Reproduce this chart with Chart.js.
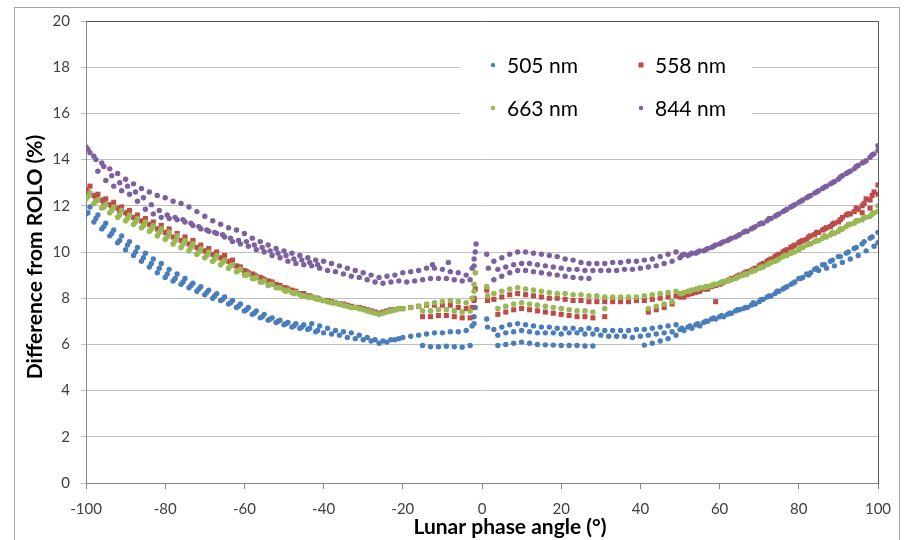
<!DOCTYPE html>
<html><head><meta charset="utf-8">
<script src="https://cdn.jsdelivr.net/npm/chart.js@4.4.0/dist/chart.umd.min.js"></script>
<style>html,body{margin:0;padding:0;background:#fff;}</style>
</head><body>
<canvas id="c" width="905" height="540"></canvas>
<script>
const seriesNames = ['505 nm', '558 nm', '663 nm', '844 nm'];
const xAxisTitle = 'Lunar phase angle (°)';
const yAxisTitle = 'Difference from ROLO (%)';

// 505 nm
const s505Left = [
[-100,11.65],[-98,11.3],[-96,11.0],[-94,10.7],[-92,10.4],[-90,10.1],[-88,9.85],[-86,9.6],[-84,9.35],[-82,9.1],[-80,8.9],[-78,8.75],[-76,8.6],[-74,8.45],[-72,8.3],[-70,8.15],[-68,8.0],[-66,7.9],[-64,7.75],[-62,7.6],[-60,7.45],[-58,7.3],[-56,7.15],[-54,7.05],[-52,6.95],[-50,6.85],[-48,6.75],[-46,6.7],[-44,6.65],[-42,6.55],[-40,6.5],[-38,6.45],[-36,6.4],[-34,6.3],[-32,6.25],[-30,6.2],[-28,6.15],[-26,6.05],[-24,6.1],[-22,6.2],[-20,6.3],[-18,6.35],[-16,6.4],[-14,6.45],[-12,6.5],[-10,6.5],[-8,6.55],[-6,6.55],[-4,6.6],[-2,6.9],
[-99,11.95],[-97,11.6],[-95,11.25],[-93,10.95],[-91,10.7],[-89,10.45],[-87,10.2],[-85,9.95],[-83,9.7],[-81,9.5],[-79,9.25],[-77,9.05],[-75,8.85],[-73,8.65],[-71,8.5],[-69,8.35],[-67,8.2],[-65,8.05],[-63,7.9],[-61,7.75],[-59,7.6],[-57,7.45],[-55,7.3],[-53,7.15],[-51,7.05],[-49,6.95],[-47,6.9],[-45,6.85],[-43,6.9],[-41,6.8],[-39,6.7],[-37,6.6],[-35,6.55],[-33,6.5],[-31,6.4],[-29,6.3],[-27,6.2],[-25,6.15],[-23,6.2],[-21,6.25],
[-15,5.95],[-13,5.9],[-11,5.9],[-9,5.92],[-7,5.9],[-5,5.88],[-3,5.95],
[-2.5,6.8],[-2,7.2],[-1.7,7.6]
];
const s505Right = [
[1.2,7.1],[1.4,6.75],
[3,6.65],[5,6.75],[7,6.85],[9,6.9],[11,6.85],[13,6.8],[15,6.75],[17,6.75],[19,6.7],[21,6.7],[23,6.7],[25,6.65],[27,6.7],[29,6.65],[31,6.6],[33,6.6],[35,6.6],[37,6.6],[39,6.65],[41,6.65],[43,6.7],[45,6.75],[47,6.8],[49,6.85],
[4,6.4],[6,6.5],[8,6.55],[10,6.6],[12,6.55],[14,6.5],[16,6.5],[18,6.5],[20,6.45],[22,6.5],[24,6.5],[26,6.45],[28,6.45],[30,6.4],[32,6.35],[34,6.35],[36,6.35],[38,6.3],[40,6.35],[42,6.4],[44,6.45],[46,6.5],[48,6.55],
[4,5.95],[6,6.0],[8,6.05],[10,6.1],[12,6.05],[14,6.0],[16,5.98],[18,5.97],[20,5.95],[22,5.95],[24,5.95],[26,5.93],[28,5.93],[41,5.97],[43,6.05],[45,6.15],[47,6.25],[49,6.4],
[50,6.65],[52,6.75],[54,6.85],[56,6.95],[58,7.1],[60,7.2],[62,7.3],[64,7.45],[66,7.55],[68,7.7],[70,7.85],[72,8.05],[74,8.2],[76,8.4],[78,8.6],[80,8.85],[82,9.05],[84,9.25],[86,9.45],[88,9.6],[90,9.8],[92,9.95],[94,10.15],[96,10.35],[98,10.6],[100,10.85],
[51,6.6],[53,6.7],[55,6.8],[57,7.0],[59,7.1],[61,7.2],[63,7.35],[65,7.5],[67,7.6],[69,7.75],[71,7.95],[73,8.1],[75,8.3],[77,8.5],[79,8.7],[81,8.9],[83,9.1],[85,9.2],[87,9.3],[89,9.4],[91,9.55],[93,9.7],[95,9.85],[97,10.05],[99,10.25],[100,10.4]
];
const s505Extra = [
[-99.5,11.7],[-97.5,11.45],[-95.5,11.1],[-93.5,10.8],[-91.5,10.5],[-89.5,10.3],[-87.5,10.0],[-85.5,9.75],[-83.5,9.5],[-81.5,9.3],[-79.5,9.05],[-77.5,8.85],[-75.5,8.7],[-73.5,8.55],[-71.5,8.4],[-69.5,8.25],[-67.5,8.1],[-65.5,7.95],[-63.5,7.8],[-61.5,7.65],[-59.5,7.5],[-57.5,7.35],[-55.5,7.2],[-53.5,7.1],[-51.5,7.0],[-49.5,6.9],[-47.5,6.8],[-45.5,6.75],[-43.5,6.7],[-41.5,6.6],
[50.5,6.7],[52.5,6.8],[54.5,6.9],[56.5,7.0],[58.5,7.15],[60.5,7.25],[62.5,7.35],[64.5,7.5],[66.5,7.6],[68.5,7.8],[70.5,7.95],[72.5,8.1],[74.5,8.3],[76.5,8.45],[78.5,8.65],[80.5,8.85],[82.5,9.0],[84.5,9.3],[86.5,9.45],[88.5,9.65],[90.5,9.8],[92.5,10.0],[94.5,10.2],[96.5,10.45],[98.5,10.65]
];

// 558 nm
const s558Left = [
[-100,12.7],[-98,12.45],[-96,12.25],[-94,12.05],[-92,11.9],[-90,11.7],[-88,11.5],[-86,11.35],[-84,11.2],[-82,11.0],[-80,10.85],[-78,10.65],[-76,10.5],[-74,10.35],[-72,10.2],[-70,10.05],[-68,9.9],[-66,9.75],[-64,9.6],[-62,9.4],[-60,9.2],[-58,9.05],[-56,8.9],[-54,8.75],[-52,8.6],[-50,8.45],[-48,8.35],[-46,8.2],[-44,8.1],[-42,8.0],[-40,7.9],[-38,7.85],[-36,7.75],[-34,7.7],[-32,7.6],[-30,7.55],[-28,7.45],[-26,7.35],[-24,7.45],[-22,7.5],[-20,7.55],[-18,7.6],[-16,7.65],[-14,7.7],[-12,7.7],[-10,7.7],[-8,7.7],[-6,7.6],[-4,7.55],[-2,7.9],
[-99,12.85],[-97,12.5],[-95,12.3],[-93,12.15],[-91,11.95],[-89,11.8],[-87,11.6],[-85,11.45],[-83,11.3],[-81,11.15],[-79,11.0],[-77,10.8],[-75,10.65],[-73,10.5],[-71,10.3],[-69,10.15],[-67,10.0],[-65,9.85],[-63,9.65],[-61,9.35],[-59,9.1],[-57,8.95],[-55,8.8],[-53,8.7],[-51,8.55],[-49,8.4],[-47,8.3],[-45,8.2],[-43,8.05],[-41,7.95],[-39,7.9],[-37,7.8],[-35,7.75],[-33,7.65],[-31,7.6],[-29,7.5],[-27,7.4],[-25,7.4],[-23,7.5],[-21,7.55],
[-15,7.2],[-13,7.2],[-11,7.25],[-9,7.25],[-7,7.2],[-5,7.15],[-3,7.15],
[-2.5,7.6],[-2,8.0],[-1.7,8.4]
];
const s558Right = [
[1.2,8.35],[1.4,7.9],
[3,7.95],[5,8.05],[7,8.15],[9,8.2],[11,8.15],[13,8.1],[15,8.05],[17,8.0],[19,8.0],[21,7.95],[23,7.9],[25,7.9],[27,7.85],[29,7.85],[31,7.85],[33,7.85],[35,7.85],[37,7.85],[39,7.9],[41,7.9],[43,7.95],[45,8.0],[47,8.05],[49,8.1],
[4,7.3],[6,7.4],[8,7.5],[10,7.55],[12,7.5],[14,7.45],[16,7.4],[18,7.35],[20,7.3],[22,7.25],[24,7.2],[26,7.2],[28,7.15],[31,7.2],[42,7.4],[44,7.5],[46,7.6],[48,7.75],[59,7.85],
[50,8.05],[52,8.15],[54,8.25],[56,8.4],[58,8.5],[60,8.6],[62,8.75],[64,8.9],[66,9.05],[68,9.2],[70,9.4],[72,9.6],[74,9.8],[76,10.0],[78,10.2],[80,10.4],[82,10.55],[84,10.75],[86,10.95],[88,11.1],[90,11.3],[92,11.6],[94,11.75],[96,12.0],[98,12.25],[100,12.5],
[51,8.05],[53,8.2],[55,8.3],[57,8.4],[59,8.55],[61,8.7],[63,8.85],[65,9.0],[67,9.15],[69,9.3],[71,9.5],[73,9.7],[75,9.9],[77,10.1],[79,10.3],[81,10.5],[83,10.7],[85,10.85],[87,11.05],[89,11.25],[91,11.5],[93,11.65],[95,11.85],[97,12.3],[99,12.6],[100,12.9],[98,11.9],[96,11.7]
];
const s558Extra = [
[-99.5,12.6],[-97.5,12.35],[-95.5,12.15],[-93.5,12.0],[-91.5,11.8],[-89.5,11.65],[-87.5,11.45],[-85.5,11.3],[-83.5,11.1],[-81.5,10.95],[-79.5,10.8],[-77.5,10.6],[-75.5,10.45],[-73.5,10.3],[-71.5,10.15],[-69.5,10.0],[-67.5,9.85],[-65.5,9.7],[-63.5,9.55],[-61.5,9.35],[-59.5,9.15],[-57.5,9.0],[-55.5,8.85],[-53.5,8.7],[-51.5,8.55],[-49.5,8.45],[-47.5,8.3],[-45.5,8.2],[-43.5,8.1],[-41.5,8.0],
[50.5,8.1],[52.5,8.2],[54.5,8.3],[56.5,8.4],[58.5,8.55],[60.5,8.65],[62.5,8.8],[64.5,8.95],[66.5,9.1],[68.5,9.25],[70.5,9.45],[72.5,9.65],[74.5,9.85],[76.5,10.05],[78.5,10.25],[80.5,10.45],[82.5,10.65],[84.5,10.85],[86.5,11.0],[88.5,11.2],[90.5,11.4],[92.5,11.65],[94.5,11.9],[96.5,12.1],[98.5,12.45]
];

// 663 nm
const s663Left = [
[-100,12.3],[-98,12.1],[-96,11.9],[-94,11.7],[-92,11.5],[-90,11.35],[-88,11.2],[-86,11.05],[-84,10.9],[-82,10.7],[-80,10.55],[-78,10.35],[-76,10.2],[-74,10.05],[-72,9.9],[-70,9.75],[-68,9.6],[-66,9.45],[-64,9.3],[-62,9.15],[-60,9.0],[-58,8.85],[-56,8.7],[-54,8.55],[-52,8.45],[-50,8.35],[-48,8.25],[-46,8.15],[-44,8.05],[-42,8.0],[-40,7.9],[-38,7.8],[-36,7.75],[-34,7.65],[-32,7.6],[-30,7.5],[-28,7.4],[-26,7.3],[-24,7.4],[-22,7.5],[-20,7.55],[-18,7.6],[-16,7.65],[-14,7.75],[-12,7.8],[-10,7.85],[-8,7.9],[-6,7.85],[-4,7.8],[-2,8.3],
[-99,12.55],[-97,12.25],[-95,12.05],[-93,11.95],[-91,11.8],[-89,11.6],[-87,11.45],[-85,11.3],[-83,11.15],[-81,11.0],[-79,10.85],[-77,10.7],[-75,10.5],[-73,10.35],[-71,10.15],[-69,10.0],[-67,9.85],[-65,9.65],[-63,9.45],[-61,9.25],[-59,9.05],[-57,8.9],[-55,8.75],[-53,8.6],[-51,8.45],[-49,8.35],[-47,8.25],[-45,8.1],[-43,8.05],[-41,7.95],[-39,7.85],[-37,7.8],[-35,7.7],[-33,7.6],[-31,7.55],[-29,7.45],[-27,7.35],[-25,7.35],[-23,7.45],[-21,7.55],
[-15,7.45],[-13,7.45],[-11,7.5],[-9,7.5],[-7,7.45],[-5,7.4],[-3,7.45],
[-2.5,8.0],[-2,8.6],[-1.7,9.1]
];
const s663Right = [
[1.2,8.5],[1.4,8.1],
[3,8.2],[5,8.3],[7,8.4],[9,8.45],[11,8.4],[13,8.35],[15,8.3],[17,8.25],[19,8.2],[21,8.2],[23,8.15],[25,8.15],[27,8.1],[29,8.1],[31,8.05],[33,8.05],[35,8.05],[37,8.05],[39,8.05],[41,8.1],[43,8.15],[45,8.2],[47,8.25],[49,8.3],
[4,7.55],[6,7.65],[8,7.75],[10,7.8],[12,7.75],[14,7.7],[16,7.65],[18,7.6],[20,7.55],[22,7.5],[24,7.45],[26,7.45],[28,7.4],[31,7.55],[42,7.55],[44,7.65],[46,7.75],[48,7.85],
[50,8.2],[52,8.3],[54,8.4],[56,8.45],[58,8.55],[60,8.65],[62,8.75],[64,8.85],[66,9.0],[68,9.15],[70,9.3],[72,9.45],[74,9.6],[76,9.8],[78,9.95],[80,10.1],[82,10.3],[84,10.45],[86,10.6],[88,10.75],[90,10.9],[92,11.1],[94,11.25],[96,11.4],[98,11.55],[100,11.75],
[51,8.25],[53,8.35],[55,8.45],[57,8.5],[59,8.6],[61,8.7],[63,8.8],[65,8.95],[67,9.05],[69,9.2],[71,9.35],[73,9.55],[75,9.7],[77,9.85],[79,10.0],[81,10.2],[83,10.35],[85,10.5],[87,10.65],[89,10.8],[91,11.0],[93,11.2],[95,11.35],[97,11.5],[99,11.7],[100,12.0]
];
const s663Extra = [
[-99.5,12.4],[-97.5,12.2],[-95.5,11.95],[-93.5,11.8],[-91.5,11.6],[-89.5,11.45],[-87.5,11.3],[-85.5,11.15],[-83.5,11.0],[-81.5,10.85],[-79.5,10.65],[-77.5,10.5],[-75.5,10.35],[-73.5,10.2],[-71.5,10.0],[-69.5,9.85],[-67.5,9.7],[-65.5,9.55],[-63.5,9.4],[-61.5,9.2],[-59.5,9.0],[-57.5,8.85],[-55.5,8.7],[-53.5,8.6],[-51.5,8.45],[-49.5,8.3],[-47.5,8.2],[-45.5,8.1],[-43.5,8.05],[-41.5,7.95],
[50.5,8.2],[52.5,8.3],[54.5,8.4],[56.5,8.5],[58.5,8.6],[60.5,8.7],[62.5,8.8],[64.5,8.9],[66.5,9.05],[68.5,9.2],[70.5,9.35],[72.5,9.5],[74.5,9.65],[76.5,9.85],[78.5,10.0],[80.5,10.2],[82.5,10.35],[84.5,10.5],[86.5,10.7],[88.5,10.85],[90.5,11.0],[92.5,11.2],[94.5,11.35],[96.5,11.5],[98.5,11.65]
];

// 844 nm
const s844Left = [
[-100,14.55],[-98,14.15],[-96,13.85],[-94,13.6],[-92,13.4],[-90,13.15],[-88,12.95],[-86,12.75],[-84,12.6],[-82,12.45],[-80,12.35],[-78,12.2],[-76,12.1],[-74,11.95],[-72,11.75],[-70,11.55],[-68,11.35],[-66,11.2],[-64,11.05],[-62,10.95],[-60,10.8],[-58,10.6],[-56,10.45],[-54,10.3],[-52,10.15],[-50,10.05],[-48,9.95],[-46,9.85],[-44,9.75],[-42,9.65],[-40,9.6],[-38,9.5],[-36,9.4],[-34,9.3],[-32,9.2],[-30,9.1],[-28,9.0],[-26,8.9],[-24,8.95],[-22,9.0],[-20,9.1],[-18,9.15],[-16,9.2],[-14,9.3],[-12,9.3],[-10,9.25],[-8,9.15],[-6,9.1],[-4,9.0],[-2,9.4],
[-99,14.3],[-97,13.5],[-95,13.1],[-93,12.85],[-91,12.65],[-89,12.5],[-87,12.2],[-85,11.85],[-83,11.65],[-81,11.5],[-79,11.45],[-77,11.4],[-75,11.3],[-73,11.15],[-71,11.0],[-69,10.9],[-67,10.8],[-65,10.65],[-63,10.45],[-61,10.35],[-59,10.25],[-57,10.1],[-55,10.0],[-53,9.85],[-51,9.75],[-49,9.6],[-47,9.5],[-45,9.45],[-43,9.4],[-41,9.3],[-39,9.2],[-37,9.15],[-35,9.05],[-33,8.95],[-31,8.9],[-29,8.8],[-27,8.7],[-25,8.65],[-23,8.7],[-21,8.75],[-19,8.7],[-17,8.75],[-15,8.8],[-13,8.85],[-11,8.85],[-9,8.85],[-7,8.8],[-5,8.75],[-3,8.8],
[-12.5,9.45],[-8.5,9.55],
[-2.5,9.3],[-2,9.7],[-1.7,10.0],[-1.5,10.35]
];
const s844Right = [
[1.2,9.9],[1.6,9.3],
[3,9.6],[5,9.75],[7,9.9],[9,10.0],[11,10.0],[13,9.95],[15,9.9],[17,9.85],[19,9.8],[21,9.7],[23,9.65],[25,9.55],[27,9.5],[29,9.5],[31,9.5],[33,9.55],[35,9.55],[37,9.6],[39,9.6],[41,9.65],[43,9.7],[45,9.8],[47,9.9],[49,10.0],
[4,9.25],[6,9.35],[8,9.45],[10,9.5],[12,9.5],[14,9.45],[16,9.4],[18,9.35],[20,9.3],[22,9.25],[24,9.25],[26,9.2],[28,9.2],[30,9.2],[32,9.2],[34,9.2],[36,9.25],[38,9.25],[40,9.3],[42,9.35],[44,9.4],[46,9.5],[48,9.6],
[3,8.8],[5,8.95],[7,9.1],[9,9.2],[11,9.2],[13,9.15],[15,9.1],[17,9.05],[19,9.0],[21,8.95],[23,8.9],[25,8.87],[27,8.85],
[50,9.75],[52,9.85],[54,9.95],[56,10.05],[58,10.2],[60,10.35],[62,10.5],[64,10.65],[66,10.85],[68,11.0],[70,11.2],[72,11.35],[74,11.55],[76,11.75],[78,11.95],[80,12.15],[82,12.35],[84,12.55],[86,12.75],[88,12.95],[90,13.15],[92,13.4],[94,13.6],[96,13.85],[98,14.1],[100,14.4],
[51,9.9],[53,9.95],[55,10.05],[57,10.15],[59,10.3],[61,10.45],[63,10.6],[65,10.75],[67,10.9],[69,11.1],[71,11.25],[73,11.45],[75,11.65],[77,11.85],[79,12.05],[81,12.25],[83,12.45],[85,12.65],[87,12.85],[89,13.05],[91,13.3],[93,13.5],[95,13.75],[97,13.95],[99,14.25],[100,14.6]
];
const s844Extra = [
[-99.5,14.45],[-97.5,14.0],[-95.5,13.7],[-93.5,13.3],[-91.5,13.0],[-89.5,12.85],[-87.5,12.6],[-85.5,12.35],[-83.5,12.05],[-81.5,11.8],[-79.5,11.6],[-77.5,11.5],[-75.5,11.4],[-73.5,11.25],[-71.5,11.1],[-69.5,10.95],[-67.5,10.85],[-65.5,10.75],[-63.5,10.6],[-61.5,10.5],[-59.5,10.45],[-57.5,10.3],[-55.5,10.2],[-53.5,10.05],[-51.5,9.95],[-49.5,9.85],[-47.5,9.7],[-45.5,9.65],[-43.5,9.55],[-41.5,9.45],
[50.5,9.85],[52.5,9.9],[54.5,10.0],[56.5,10.1],[58.5,10.25],[60.5,10.4],[62.5,10.55],[64.5,10.7],[66.5,10.9],[68.5,11.05],[70.5,11.25],[72.5,11.45],[74.5,11.6],[76.5,11.8],[78.5,12.0],[80.5,12.2],[82.5,12.4],[84.5,12.6],[86.5,12.8],[88.5,13.0],[90.5,13.25],[92.5,13.45],[94.5,13.7],[96.5,13.9],[98.5,14.2]
];

const seriesColors = ['#4A7EBB', '#BE4B48', '#98B954', '#7D60A0'];
const seriesShapes = ['circle', 'rect', 'circle', 'circle'];
const seriesRadius = [2.7, 3.6, 2.8, 2.7];

const toPts = arr => arr.map(p => ({x: p[0], y: p[1]}));
const seriesData = [
  s505Left.concat(s505Right, s505Extra),
  s558Left.concat(s558Right, s558Extra),
  s663Left.concat(s663Right, s663Extra),
  s844Left.concat(s844Right, s844Extra)
];

const datasets = seriesNames.map((name, i) => ({
  label: name,
  data: toPts(seriesData[i]),
  backgroundColor: seriesColors[i],
  borderColor: seriesColors[i],
  borderWidth: 0,
  pointStyle: seriesShapes[i],
  pointRadius: seriesRadius[i],
  pointHoverRadius: seriesRadius[i],
  showLine: false,
  order: 4 - i
}));

const FONT = 'Lato, "Open Sans", "DejaVu Sans", sans-serif';

const decor = {
  id: 'decor',
  beforeDraw(chart) {
    const ctx = chart.ctx;
    ctx.save();
    ctx.fillStyle = '#ffffff';
    ctx.fillRect(0, 0, chart.width, chart.height);
    ctx.strokeStyle = '#a6a6a6';
    ctx.lineWidth = 1;
    ctx.strokeRect(14.5, 7.5, 885, 545);
    ctx.restore();
  },
  beforeDatasetsDraw(chart) {
    const ctx = chart.ctx;
    const a = chart.chartArea;
    ctx.save();
    ctx.fillStyle = '#ffffff';
    ctx.fillRect(460, 44, 292, 84);
    ctx.strokeStyle = '#595959';
    ctx.lineWidth = 1;
    ctx.beginPath();
    ctx.moveTo(Math.round(a.left) + 0.5, Math.round(a.top) + 0.5);
    ctx.lineTo(Math.round(a.right) + 0.5, Math.round(a.top) + 0.5);
    ctx.lineTo(Math.round(a.right) + 0.5, Math.round(a.bottom) + 0.5);
    ctx.stroke();
    ctx.restore();
  },
  afterDraw(chart) {
    const ctx = chart.ctx;
    ctx.save();
    const pos = [[493, 65], [641, 65], [493, 108], [641, 108]];
    ctx.font = '21px ' + FONT;
    ctx.textBaseline = 'middle';
    ctx.textAlign = 'left';
    chart.data.datasets.forEach((ds, i) => {
      const [mx, my] = pos[i];
      ctx.fillStyle = ds.backgroundColor;
      if (ds.pointStyle === 'rect') {
        ctx.fillRect(mx - 2.5, my - 2.5, 5, 5);
      } else {
        ctx.beginPath();
        ctx.arc(mx, my, 2.2, 0, Math.PI * 2);
        ctx.fill();
      }
      ctx.fillStyle = '#000000';
      ctx.fillText(ds.label, mx + 14, my + 1);
    });
    ctx.font = 'bold 21px ' + FONT;
    ctx.fillStyle = '#000000';
    ctx.textAlign = 'center';
    ctx.textBaseline = 'middle';
    ctx.fillText(xAxisTitle, 510, 527);
    ctx.translate(35, 257);
    ctx.rotate(-Math.PI / 2);
    ctx.fillText(yAxisTitle, 0, 0);
    ctx.restore();
  }
};

new Chart(document.getElementById('c'), {
  type: 'scatter',
  data: { datasets },
  options: {
    responsive: false,
    animation: false,
    devicePixelRatio: 1,
    layout: { padding: { left: 0, right: 27, top: 21, bottom: 0 } },
    plugins: { legend: { display: false }, tooltip: { enabled: false } },
    scales: {
      x: {
        type: 'linear',
        min: -100, max: 100,
        afterFit(scale) { scale.height = 57; },
        ticks: { stepSize: 20, color: '#404040', font: { family: FONT, size: 15 }, padding: 11, maxRotation: 0 },
        grid: { drawOnChartArea: false, drawTicks: true, tickLength: 6, color: '#868686' },
        border: { color: '#868686' },
        title: { display: false }
      },
      y: {
        min: 0, max: 20,
        afterFit(scale) { scale.width = 86; },
        ticks: { stepSize: 2, color: '#404040', font: { family: FONT, size: 15 }, padding: 11 },
        grid: { color: '#c0c0c0', tickLength: 5 },
        border: { color: '#868686' },
        title: { display: false }
      }
    }
  },
  plugins: [decor]
});
</script>
</body></html>
